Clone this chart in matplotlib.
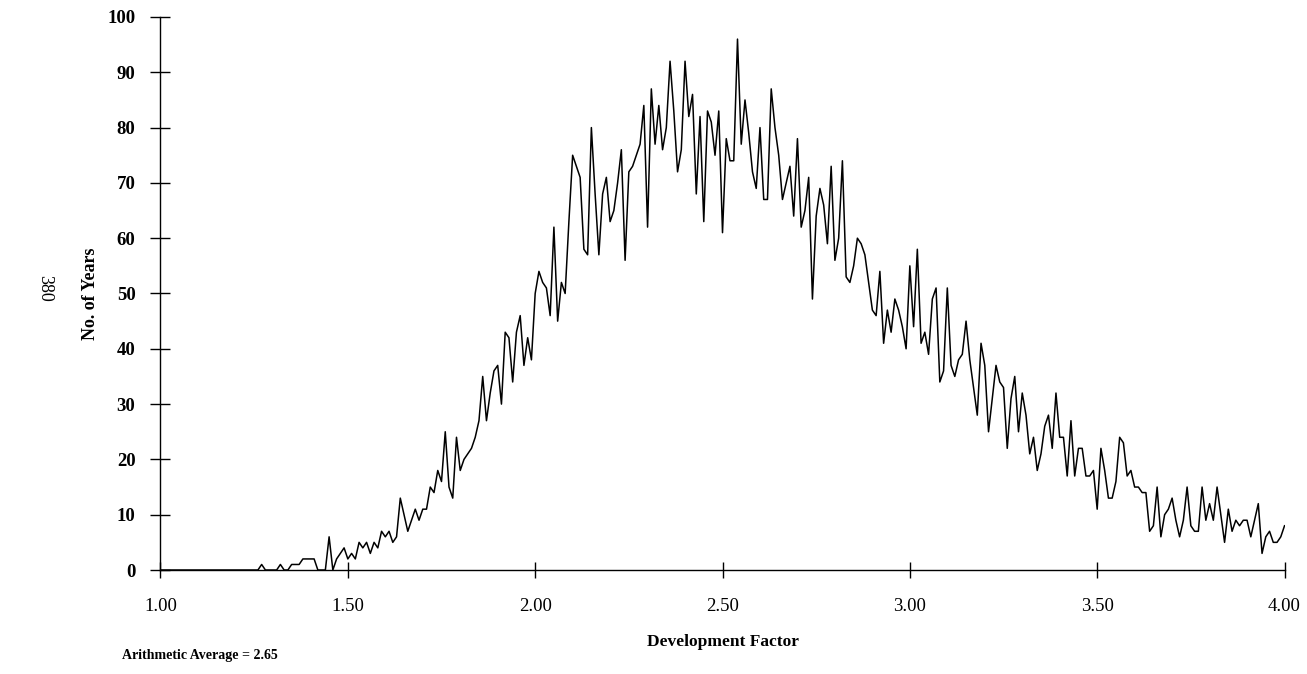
import numpy as np
import matplotlib.pyplot as plt

# No. of years per development factor bin (width 0.01)
years_100 = [0, 0, 0, 0, 0, 0, 0, 0, 0, 0,
             0, 0, 0, 0, 0, 0, 0, 0, 0, 0,
             0, 0, 0, 0, 0, 0, 0, 1, 0, 0,
             0, 0, 1, 0, 0, 1, 1, 1, 2, 2,
             2, 2, 0, 0, 0, 6, 0, 2, 3, 4]
years_150 = [2, 3, 2, 5, 4, 5, 3, 5, 4, 7,
             6, 7, 5, 6, 13, 10, 7, 9, 11, 9,
             11, 11, 15, 14, 18, 16, 25, 15, 13, 24,
             18, 20, 21, 22, 24, 27, 35, 27, 32, 36,
             37, 30, 43, 42, 34, 43, 46, 37, 42, 38]
years_200 = [50, 54, 52, 51, 46, 62, 45, 52, 50, 63,
             75, 73, 71, 58, 57, 80, 68, 57, 68, 71,
             63, 65, 70, 76, 56, 72, 73, 75, 77, 84,
             62, 87, 77, 84, 76, 80, 92, 83, 72, 76,
             92, 82, 86, 68, 82, 63, 83, 81, 75, 83]
years_250 = [61, 78, 74, 74, 96, 77, 85, 79, 72, 69,
             80, 67, 67, 87, 80, 75, 67, 70, 73, 64,
             78, 62, 65, 71, 49, 64, 69, 66, 59, 73,
             56, 60, 74, 53, 52, 55, 60, 59, 57, 52,
             47, 46, 54, 41, 47, 43, 49, 47, 44, 40]
years_300 = [55, 44, 58, 41, 43, 39, 49, 51, 34, 36,
             51, 37, 35, 38, 39, 45, 38, 33, 28, 41,
             37, 25, 31, 37, 34, 33, 22, 31, 35, 25,
             32, 28, 21, 24, 18, 21, 26, 28, 22, 32,
             24, 24, 17, 27, 17, 22, 22, 17, 17, 18]
years_350 = [11, 22, 18, 13, 13, 16, 24, 23, 17, 18,
             15, 15, 14, 14, 7, 8, 15, 6, 10, 11,
             13, 9, 6, 9, 15, 8, 7, 7, 15, 9,
             12, 9, 15, 10, 5, 11, 7, 9, 8, 9,
             9, 6, 9, 12, 3, 6, 7, 5, 5, 6,
             8]

years = years_100 + years_150 + years_200 + years_250 + years_300 + years_350
factor = np.arange(100, 100 + len(years)) / 100

x_ticks = [1.0, 1.5, 2.0, 2.5, 3.0, 3.5, 4.0]
y_ticks = [0, 10, 20, 30, 40, 50, 60, 70, 80, 90, 100]

plt.rcParams['font.family'] = ['Liberation Serif', 'DejaVu Serif']

fig = plt.figure(figsize=(13.07, 6.74), dpi=100)
ax = fig.add_axes([0.1228, 0.1543, 0.86, 0.8205])

ax.plot(factor, years, color='black', lw=1.1)

ax.set_xlim(1.0, 4.0)
ax.set_ylim(0, 100)
ax.set_xticks(x_ticks)
ax.set_xticklabels([f"{t:.2f}" for t in x_ticks], fontsize=13.5)
ax.set_yticks(y_ticks)
ax.set_yticklabels([str(t) for t in y_ticks], fontsize=13.5, fontweight='bold')

for s in ['top', 'right']:
    ax.spines[s].set_visible(False)
ax.spines['left'].set_linewidth(1.0)
ax.spines['bottom'].set_linewidth(1.0)
ax.tick_params(axis='y', direction='inout', length=14, width=1.0, pad=11)
ax.tick_params(axis='x', direction='inout', length=12, width=1.0, pad=14)

ax.set_ylabel("No. of Years", fontsize=13, fontweight='bold', labelpad=6)
ax.set_xlabel("Development Factor", fontsize=12.5, fontweight='bold', labelpad=14)

fig.text(122 / 1307, 1 - 656 / 674, "Arithmetic Average = 2.65",
         fontsize=10, fontweight='bold', ha='left', va='center')
fig.text(45 / 1307, 1 - 288 / 674, "380", fontsize=13, rotation=270,
         ha='center', va='center')

fig.savefig("out.png", dpi=100)
